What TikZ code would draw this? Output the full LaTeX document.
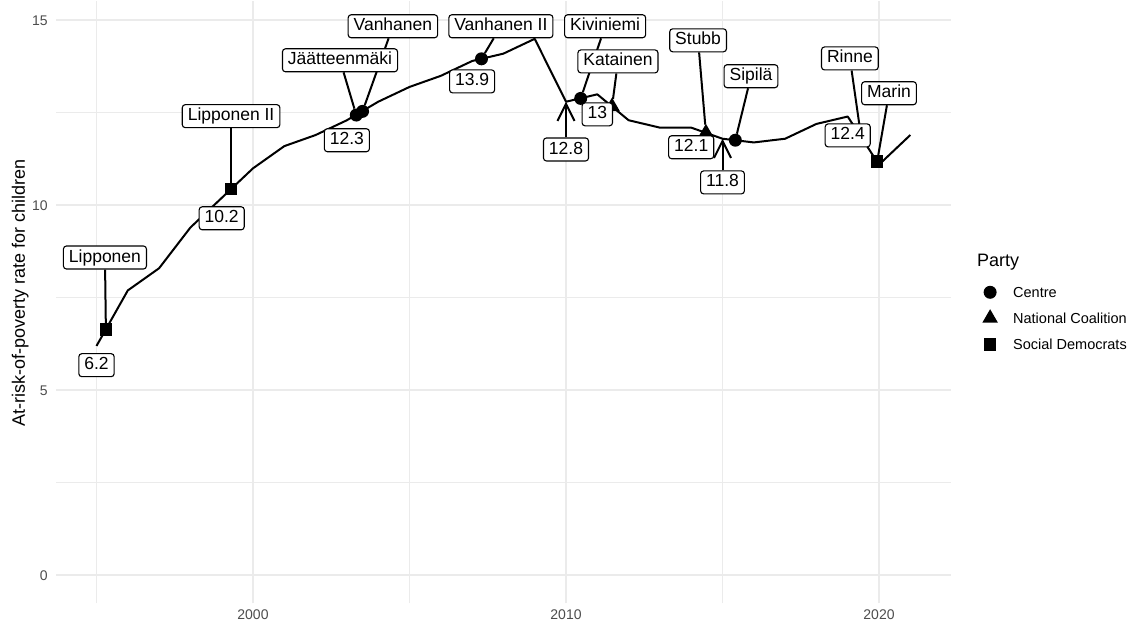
\documentclass[tikz,border=0pt]{standalone}
\usepackage{fontspec}
\setmainfont{Liberation Sans}
\usetikzlibrary{arrows.meta,shapes.geometric}

\definecolor{gridgray}{RGB}{235,235,235}
\definecolor{tickgray}{RGB}{77,77,77}

\pgfdeclarelayer{back}
\pgfdeclarelayer{mid}
\pgfsetlayers{back,mid,main}

\tikzset{
  major/.style={gridgray, line width=2.2pt},
  minor/.style={gridgray, line width=1.1pt},
  series/.style={line width=2pt, line join=round},
  seg/.style={line width=2pt},
  lbl/.style={draw, fill=white, rounded corners=3pt, line width=1.1pt,
    inner xsep=5.5pt, inner ysep=3.25pt, text height=12.8pt, text depth=3.7pt,
    font=\fontsize{17.5}{20}\selectfont},
  kesk/.style={circle, fill, inner sep=0pt, minimum size=13pt},
  kok/.style={regular polygon, regular polygon sides=3, fill, inner sep=0pt,
    minimum size=18pt},
  sdp/.style={rectangle, fill, inner sep=0pt, minimum size=12.5pt},
  ticklbl/.style={tickgray, inner sep=0pt, font=\fontsize{14}{16}\selectfont},
  ttl/.style={inner sep=0pt, font=\fontsize{18}{21}\selectfont},
  legtext/.style={inner sep=0pt, anchor=west, font=\fontsize{14.5}{17}\selectfont}
}

\begin{document}
\begin{tikzpicture}[x=31.3pt, y=37pt]
    \begin{pgfonlayer}{back}
      \fill[white] (-253pt,-51pt) rectangle (889pt,574pt);
      \foreach \x in {-5, 5, 15}
        \draw[minor] (\x, -0.76) -- (\x, 15.52);
      \foreach \y in {2.5, 7.5, 12.5}
        \draw[minor] (-6.29, \y) -- (22.3, \y);
      \foreach \x in {0, 10, 20}
        \draw[major] (\x, -0.76) -- (\x, 15.52);
      \foreach \y in {0, 5, 10, 15}
        \draw[major] (-6.29, \y) -- (22.3, \y);
    \end{pgfonlayer}
    \useasboundingbox (-253pt,-51pt) rectangle (889pt,574pt);

    \foreach \x/\t in {0/2000, 10/2010, 20/2020}
      \node[ticklbl] (xt\t) at (\x, -1.05) {\t};
    \foreach \y in {0, 5, 10, 15}
      \node[ticklbl, anchor=east] (yt\y) at (-6.55, \y) {\y};
    \node[ttl, rotate=90] (ytitle) at (-7.44, 7.62) {At-risk-of-poverty rate for children};

    \foreach \yr/\v in {1995/6.2, 1996/7.7, 1997/8.3, 1998/9.4, 1999/10.2, 2000/11.0,
        2001/11.6, 2002/11.9, 2003/12.3, 2004/12.8, 2005/13.2, 2006/13.5, 2007/13.9,
        2008/14.1, 2009/14.5, 2010/12.8, 2011/13.0, 2012/12.3, 2013/12.1, 2014/12.1,
        2015/11.8, 2016/11.7, 2017/11.8, 2018/12.2, 2019/12.4, 2020/11.1, 2021/11.9}
      \coordinate (d\yr) at (\yr-2000, \v);
    \begin{pgfonlayer}{mid}
      \draw[series] (d1995) \foreach \yr in {1996,...,2021} { -- (d\yr) };
    \end{pgfonlayer}

    \foreach \id/\x/\y/\pty in {lip/-4.70/6.65/sdp, lip2/-0.70/10.44/sdp,
        jaa/3.30/12.44/kesk, van/3.50/12.54/kesk, van2/7.30/13.96/kesk,
        kiv/10.47/12.89/kesk, kat/11.47/12.67/kok, stu/14.47/11.96/kok,
        sip/15.41/11.76/kesk, rin/19.43/11.84/sdp, mar/19.94/11.18/sdp}
      \node[\pty] (p\id) at (\x, \y) {};

    \foreach \id/\x/\y/\name in {lip/-4.73/8.59/Lipponen, lip2/-0.70/12.41/Lipponen II,
        jaa/2.78/13.92/Jäätteenmäki, van/4.47/14.84/Vanhanen, van2/7.92/14.84/Vanhanen II,
        kiv/11.25/14.84/Kiviniemi, kat/11.66/13.89/Katainen, stu/14.22/14.46/Stubb,
        sip/15.91/13.49/Sipilä, rin/19.07/13.97/Rinne, mar/20.32/13.03/Marin}
      \node[lbl] (n\id) at (\x, \y) {\name};

    \foreach \yr/\y/\v in {1995/5.68/6.2, 1999/9.65/10.2, 2003/11.76/12.3,
        2007/13.35/13.9, 2010/11.51/12.8, 2011/12.46/13, 2014/11.57/12.1,
        2015/10.62/11.8, 2019/11.89/12.4}
      \node[lbl] (v\yr) at (\yr-2000, \y) {\v};

    \begin{pgfonlayer}{mid}
      \foreach \id in {lip, lip2, jaa, van, van2, kiv, kat, stu, sip, rin, mar}
        \draw[seg] (n\id) -- (p\id);
      \foreach \yr in {2010, 2015}
        \draw[seg, -{Straight Barb[length=17pt, width=17pt]}] (v\yr) -- (d\yr);
    \end{pgfonlayer}

    \node[ttl, anchor=west] (legtitle) at (23.13, 8.47) {Party};
    \node[kesk] (lkesk) at (23.55, 7.65) {};
    \node[kok] (lkok) at (23.55, 6.95) {};
    \node[sdp] (lsdp) at (23.55, 6.24) {};
    \node[legtext] (tkesk) at (24.28, 7.65) {Centre};
    \node[legtext] (tkok) at (24.28, 6.95) {National Coalition};
    \node[legtext] (tsdp) at (24.28, 6.24) {Social Democrats};
\end{tikzpicture}
\end{document}
